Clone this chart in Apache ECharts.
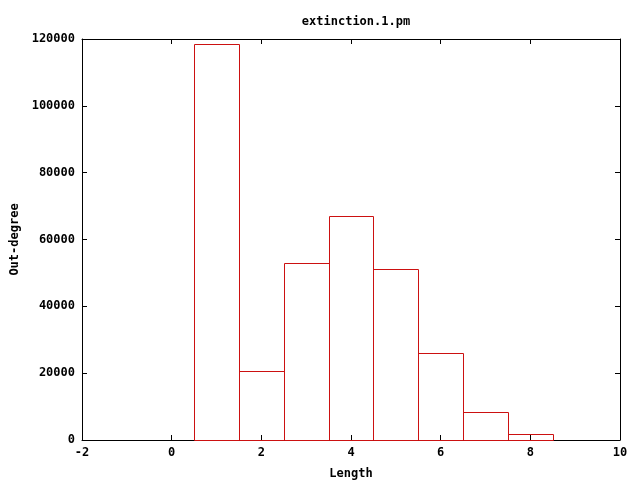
<!DOCTYPE html>
<html><head><meta charset="utf-8">
<script src="https://cdn.jsdelivr.net/npm/echarts@6/dist/echarts.min.js"></script>
<style>html,body{margin:0;padding:0;background:#fff}#c{width:640px;height:480px}</style>
</head><body><div id="c"></div>
<script>
const binCenters = [1, 2, 3, 4, 5, 6, 7, 8];
const outDegree = [118500, 20600, 52900, 67000, 51200, 26000, 8400, 1800];
const binWidth = 1;
const titleText = 'extinction.1.pm';
const xName = 'Length';
const yName = 'Out-degree';

const font = 'DejaVu Sans Mono';
const lineColor = '#000';
const barColor = '#cc1111';
const chart = echarts.init(document.getElementById('c'), null, {renderer: 'canvas'});
const lbl = {fontFamily: font, fontWeight: 'bold', fontSize: 12, color: '#000'};
const baseAxis = {
  axisLine: {show: true, onZero: false, lineStyle: {color: lineColor, width: 1}},
  axisTick: {show: true, inside: true, length: 5, lineStyle: {color: lineColor}},
  splitLine: {show: false}
};
const plain = v => String(v);
chart.setOption({
  animation: false,
  title: {text: titleText, left: 351, top: 11, textAlign: 'center',
    textStyle: {fontFamily: font, fontWeight: 'bold', fontSize: 12, color: '#000'}},
  grid: {left: 82, right: 20, top: 39, bottom: 40, containLabel: false, outerBoundsMode: 'none'},
  xAxis: [
    Object.assign({}, baseAxis, {type: 'value', min: -2, max: 10, interval: 2, position: 'bottom',
      name: xName, nameLocation: 'middle', nameGap: 28, nameTextStyle: lbl,
      axisLabel: Object.assign({margin: 7, formatter: plain}, lbl)}),
    Object.assign({}, baseAxis, {type: 'value', min: -2, max: 10, interval: 2, position: 'top',
      axisLabel: {show: false}})
  ],
  yAxis: [
    Object.assign({}, baseAxis, {type: 'value', min: 0, max: 120000, interval: 20000, position: 'left',
      name: yName, nameLocation: 'middle', nameGap: 60, nameRotate: 90, nameTextStyle: lbl,
      axisLabel: Object.assign({margin: 7, formatter: plain}, lbl)}),
    Object.assign({}, baseAxis, {type: 'value', min: 0, max: 120000, interval: 20000, position: 'right',
      axisLabel: {show: false}})
  ],
  series: [{
    type: 'custom',
    xAxisIndex: 0, yAxisIndex: 0,
    data: binCenters.map((c, i) => [c, outDegree[i]]),
    renderItem: function (params, api) {
      const x = api.value(0), y = api.value(1);
      const p0 = api.coord([x - binWidth / 2, y]);
      const p1 = api.coord([x + binWidth / 2, 0]);
      const x0 = Math.round(p0[0]), x1 = Math.round(p1[0]);
      const y0 = Math.round(p0[1]), y1 = Math.round(p1[1]);
      return {
        type: 'rect',
        shape: {x: x0 + 0.5, y: y0 + 0.5, width: x1 - x0, height: y1 - y0},
        style: {fill: 'none', stroke: barColor, lineWidth: 1}
      };
    }
  }]
});
</script></body></html>
